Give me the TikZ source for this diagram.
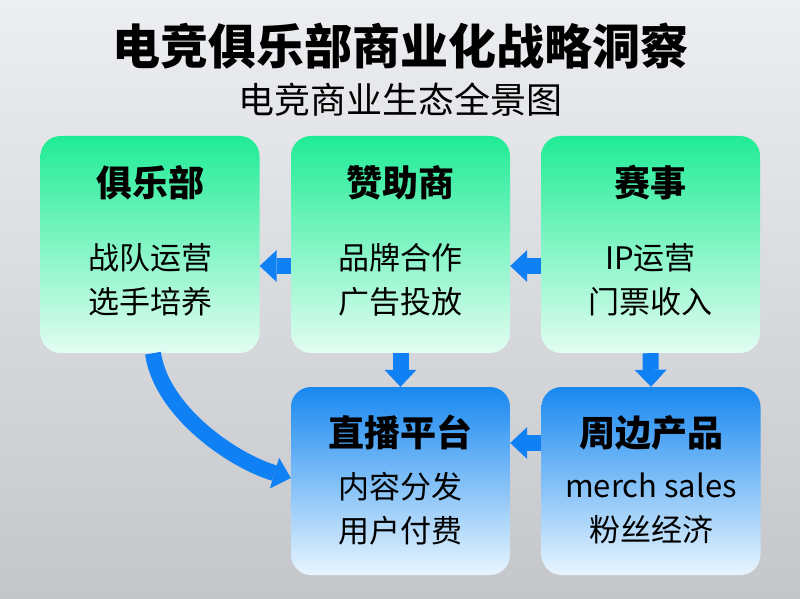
\documentclass[tikz,border=0pt]{standalone}
\usepackage{fontspec}
\setmainfont{Noto Sans CJK SC}
\usetikzlibrary{arrows.meta,positioning,calc}

\definecolor{bgtop}{RGB}{236,238,241}
\definecolor{bgbot}{RGB}{196,198,202}
\definecolor{greentop}{RGB}{32,236,150}
\definecolor{greenbot}{RGB}{226,253,242}
\definecolor{bluetop}{RGB}{24,136,240}
\definecolor{bluebot}{RGB}{232,245,254}
\definecolor{arrowblue}{RGB}{16,128,245}

\begin{document}
\begin{tikzpicture}[x=1pt,y=1pt,yscale=-1,
  box/.style={rounded corners=20pt, minimum width=219pt, inner sep=0pt},
  topbox/.style={box, minimum height=217pt, top color=greentop, bottom color=greenbot},
  lowbox/.style={box, minimum height=188pt, top color=bluetop, bottom color=bluebot},
  boxtitle/.style={font=\fontsize{36}{40}\selectfont\bfseries},
  boxtext/.style={font=\fontsize{31}{44}\selectfont, align=center},
  flow/.style={draw=arrowblue, line width=16pt, -{Triangle[width=32pt,length=17pt,line width=0pt]}}
]
\useasboundingbox (0,0) rectangle (800,599);
%background
\shade[top color=bgtop, bottom color=bgbot] (0,0) rectangle (800,599);

% Title
\node (title) at (400,46) {\fontsize{48}{52}\selectfont\bfseries 电竞俱乐部商业化战略洞察};
\node (subtitle) at (400,100) {\fontsize{36}{40}\selectfont 电竞商业生态全景图};

% Boxes
\node[topbox] (club) at (150,244.5) {};
\node[topbox] (sponsor) at (400.5,244.5) {};
\node[topbox] (event) at (650.5,244.5) {};
\node[lowbox] (live) at (400.5,481) {};
\node[lowbox] (merch) at (651,481) {};

% Box texts
\node[boxtitle] (clubT) at ($(club.north)+(0,47)$) {俱乐部};
\node[boxtext] (clubB) at ($(club.north)+(0,144)$) {战队运营\\选手培养};
\node[boxtitle] (sponsorT) at ($(sponsor.north)+(0,47)$) {赞助商};
\node[boxtext] (sponsorB) at ($(sponsor.north)+(0,144)$) {品牌合作\\广告投放};
\node[boxtitle] (eventT) at ($(event.north)+(0,47)$) {赛事};
\node[boxtext] (eventB) at ($(event.north)+(0,144)$) {IP运营\\门票收入};
\node[boxtitle] (liveT) at ($(live.north)+(0,46)$) {直播平台};
\node[boxtext] (liveB) at ($(live.north)+(0,121.5)$) {内容分发\\用户付费};
\node[boxtitle] (merchT) at ($(merch.north)+(0,46)$) {周边产品};
\node[boxtext] (merchB) at ($(merch.north)+(0,121.5)$) {merch sales\\粉丝经济};

% Arrows
\draw[flow] ($(sponsor.west)+(0,21.5)$) -- ($(club.east)+(0,21.5)$);
\draw[flow] ($(event.west)+(0,21.5)$) -- ($(sponsor.east)+(0,21.5)$);
\draw[flow] (sponsor.south) -- (live.north);
\draw[flow] (event.south) -- (merch.north);
\draw[flow] ($(merch.west)+(0,-38)$) -- ($(live.east)+(0,-38)$);
\draw[flow] ($(club.south)+(3,0)$) .. controls +(8,57) and +(-60,-18) .. ($(live.west)+(0,-3)$);

\end{tikzpicture}
\end{document}
